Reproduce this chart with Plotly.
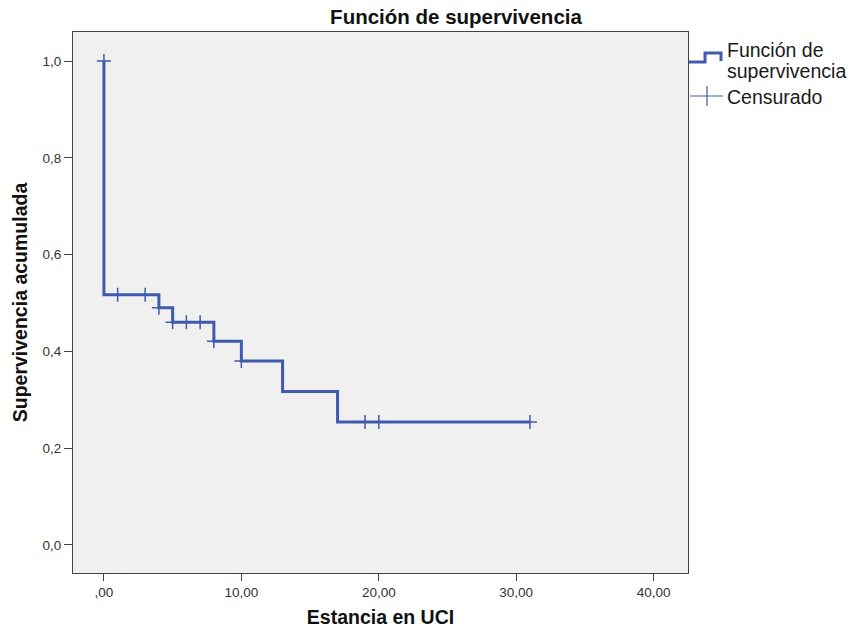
import plotly.graph_objects as go

# Kaplan-Meier step data
event_times = [0, 0, 4, 5, 8, 10, 13, 17, 31]
survival = [1.0, 0.517, 0.490, 0.460, 0.421, 0.380, 0.317, 0.254, 0.254]

cens_times = [0, 1, 3, 4, 5, 6, 7, 8, 10, 19, 20, 31]
cens_surv = [1.0, 0.517, 0.517, 0.490, 0.460, 0.460, 0.460, 0.421, 0.380, 0.254, 0.254, 0.254]

x_ticks = [0, 10, 20, 30, 40]
x_labels = [",00", "10,00", "20,00", "30,00", "40,00"]
y_ticks = [0, 0.2, 0.4, 0.6, 0.8, 1.0]
y_labels = ["0,0", "0,2", "0,4", "0,6", "0,8", "1,0"]

BLUE = "#3F5AAE"
FONT = "Liberation Sans, Arial, sans-serif"

fig = go.Figure()
fig.add_trace(go.Scatter(
    x=event_times, y=survival, mode="lines", line=dict(color=BLUE, width=3, shape="hv"),
    showlegend=False, hoverinfo="skip"))
fig.add_trace(go.Scatter(
    x=cens_times, y=cens_surv, mode="markers",
    marker=dict(symbol="cross-thin", size=10, line=dict(color=BLUE, width=1.5)),
    showlegend=False, hoverinfo="skip"))

L, R, T, B = 73, 688, 32, 573
W, H = 857, 635
def px(xp):
    return (xp - L) / (R - L)
def py(yp):
    return (B - yp) / (B - T)

# custom legend (step icon + cross icon)
fig.add_shape(type="path", xref="paper", yref="paper",
              path=f"M {px(689)} {py(62)} L {px(705)} {py(62)} L {px(705)} {py(53)} L {px(721)} {py(53)} L {px(721)} {py(61)}",
              line=dict(color=BLUE, width=3))
fig.add_shape(type="line", xref="paper", yref="paper", x0=px(690), x1=px(723), y0=py(96), y1=py(96),
              line=dict(color=BLUE, width=1.2))
fig.add_shape(type="line", xref="paper", yref="paper", x0=px(707), x1=px(707), y0=py(86), y1=py(106),
              line=dict(color=BLUE, width=1.2))
for txt, yy in [("Función de", 50), ("supervivencia", 71), ("Censurado", 97)]:
    fig.add_annotation(text=txt, xref="paper", yref="paper", x=px(725), y=py(yy),
                       xanchor="left", yanchor="middle", showarrow=False,
                       font=dict(family=FONT, size=19.5, color="#1a1a1a"))

fig.update_layout(
    width=W, height=H,
    margin=dict(l=L, r=W - R, t=T, b=H - B),
    paper_bgcolor="white", plot_bgcolor="#F0F0F0",
    title=dict(text="<b>Función de supervivencia</b>", x=456 / W, xanchor="center",
               y=1 - 17 / H, yanchor="middle", font=dict(family=FONT, size=20.5, color="#111111")),
    font=dict(family=FONT),
)
fig.update_xaxes(range=[-2.25, 42.5], tickvals=x_ticks, ticktext=x_labels, ticks="outside",
                 ticklen=7, tickcolor="#444444", showgrid=False, zeroline=False,
                 showline=True, mirror=True, linecolor="#444444", linewidth=1, automargin=False,
                 tickfont=dict(family=FONT, size=13.5, color="#333333"),
                 title=dict(text="<b>Estancia en UCI</b>", standoff=11,
                            font=dict(family=FONT, size=19.5, color="#111111")))
fig.update_yaxes(range=[-0.058, 1.06], tickvals=y_ticks, ticktext=y_labels, ticks="outside",
                 ticklen=8, tickcolor="#444444", showgrid=False, zeroline=False,
                 showline=True, mirror=True, linecolor="#444444", linewidth=1, automargin=False,
                 tickfont=dict(family=FONT, size=13.5, color="#333333"),
                 title=dict(text="<b>Supervivencia acumulada</b>", standoff=9,
                            font=dict(family=FONT, size=19.5, color="#111111")))

fig.write_html("out.html", config={"displayModeBar": False},
               post_script="document.body.style.margin='0px';document.body.style.padding='0px';")
